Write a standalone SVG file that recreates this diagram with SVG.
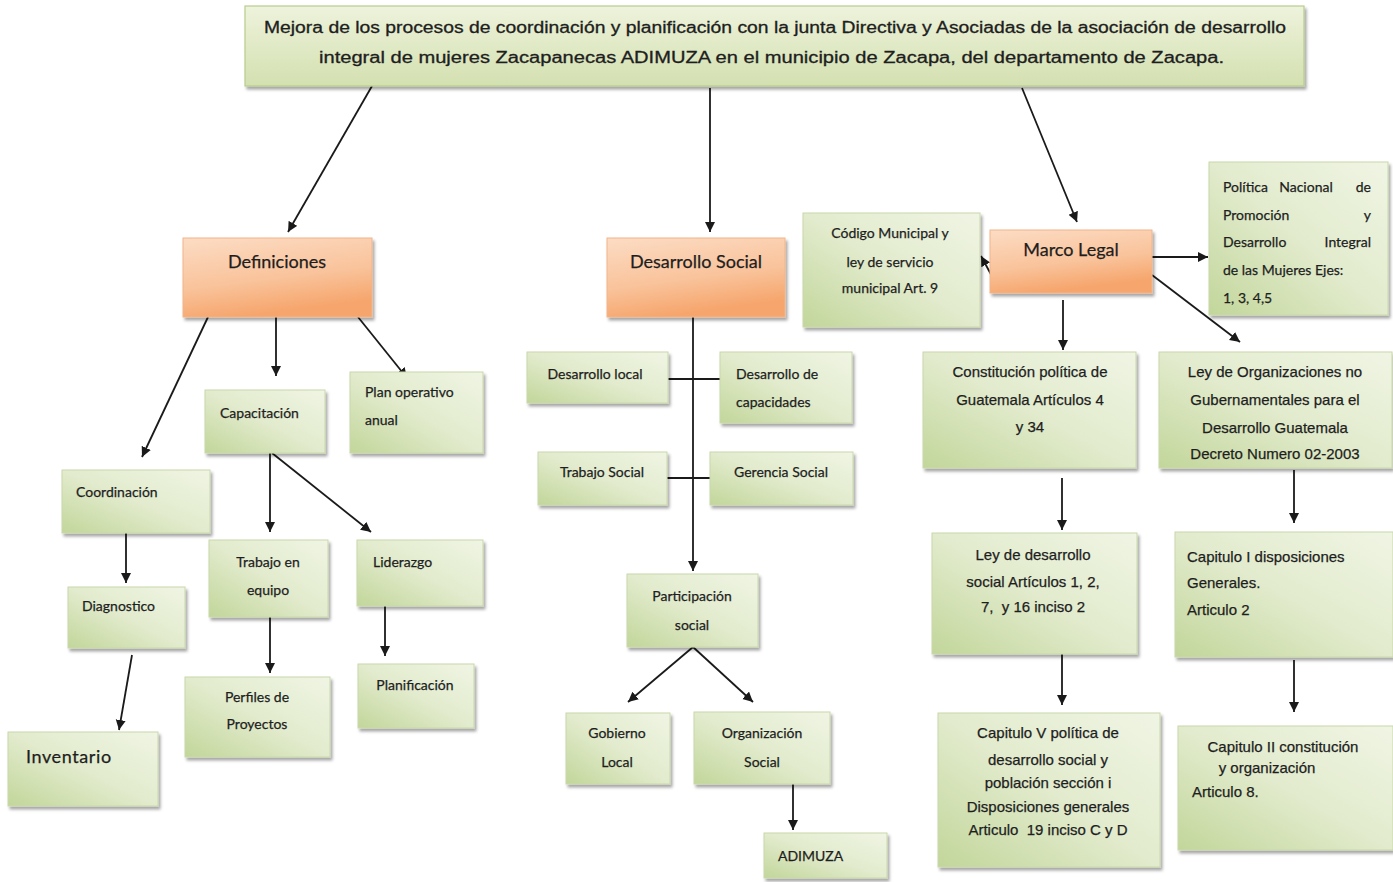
<svg xmlns="http://www.w3.org/2000/svg" width="1393" height="882" viewBox="0 0 1393 882">
<defs>
<linearGradient id="gG" x1="0" y1="1" x2="1" y2="0">
<stop offset="0" stop-color="#c2d69a"/>
<stop offset="0.5" stop-color="#e2ebcd"/>
<stop offset="1" stop-color="#f0f5e4"/>
</linearGradient>
<linearGradient id="gT" x1="0" y1="0" x2="0" y2="1">
<stop offset="0" stop-color="#eef3dc"/>
<stop offset="1" stop-color="#d3e0b0"/>
</linearGradient>
<linearGradient id="gO" x1="0" y1="0" x2="0.3" y2="1">
<stop offset="0" stop-color="#fcdcc4"/>
<stop offset="0.6" stop-color="#f9c39b"/>
<stop offset="1" stop-color="#f6a56c"/>
</linearGradient>
<filter id="sh" x="-10%" y="-10%" width="130%" height="140%">
<feDropShadow dx="2" dy="3" stdDeviation="1.5" flood-color="#000" flood-opacity="0.35"/>
</filter>
<marker id="ah" markerUnits="userSpaceOnUse" markerWidth="11" markerHeight="11" refX="10" refY="5" orient="auto">
<path d="M0,0 L10,5 L0,10 z" fill="#1a1a1a"/>
</marker>
<style>
.g{fill:url(#gG);stroke:#c9d8ab;stroke-width:1;filter:url(#sh)}
.o{fill:url(#gO);stroke:#f2b48a;stroke-width:1;filter:url(#sh)}
.tp{fill:url(#gT);stroke:#b9cc8e;stroke-width:1.2;filter:url(#sh)}
text{white-space:pre}
.c{font-family:Lato,"Liberation Sans",sans-serif;font-size:14px;fill:#1e1e1e;stroke:#1e1e1e;stroke-width:0.25}
.h{font-family:Lato,"Liberation Sans",sans-serif;font-size:18px;fill:#1e1e1e;stroke:#1e1e1e;stroke-width:0.25}
.a{font-family:"Liberation Sans",Arial,sans-serif;font-size:15px;fill:#1e1e1e;stroke:#1e1e1e;stroke-width:0.25}
.top{font-family:"Liberation Sans",Arial,sans-serif;font-size:16px;fill:#1e1e1e;stroke:#1e1e1e;stroke-width:0.3}
.m{text-anchor:middle}
.ln{stroke:#1a1a1a;stroke-width:1.8;fill:none}
.ar{marker-end:url(#ah)}
</style>
</defs>
<rect width="1393" height="882" fill="#ffffff"/>

<g id="connectors">
<line class="ln ar" x1="372" y1="86" x2="288" y2="232"/>
<line class="ln ar" x1="710" y1="88" x2="710" y2="232"/>
<line class="ln ar" x1="1022" y1="88" x2="1077" y2="222"/>
<line class="ln ar" x1="208" y1="317" x2="142" y2="457"/>
<line class="ln ar" x1="276" y1="317" x2="276" y2="376"/>
<line class="ln ar" x1="358" y1="317" x2="407" y2="378"/>
<line class="ln ar" x1="270" y1="453" x2="270" y2="532"/>
<line class="ln ar" x1="272" y1="453" x2="371" y2="532"/>
<line class="ln ar" x1="126" y1="533" x2="126" y2="583"/>
<line class="ln ar" x1="132" y1="655" x2="119" y2="730"/>
<line class="ln ar" x1="270" y1="617" x2="270" y2="673"/>
<line class="ln ar" x1="385" y1="606" x2="385" y2="656"/>
<line class="ln ar" x1="693" y1="317" x2="693" y2="571"/>
<line class="ln" x1="668" y1="379" x2="720" y2="379"/>
<line class="ln" x1="667" y1="478" x2="710" y2="478"/>
<line class="ln ar" x1="693" y1="647" x2="628" y2="702"/>
<line class="ln ar" x1="693" y1="647" x2="753" y2="702"/>
<line class="ln ar" x1="793" y1="784" x2="793" y2="830"/>
<line class="ln ar" x1="994" y1="280" x2="981" y2="256"/>
<line class="ln ar" x1="1152" y1="257" x2="1208" y2="257"/>
<line class="ln ar" x1="1152" y1="275" x2="1240" y2="342"/>
<line class="ln ar" x1="1063" y1="300" x2="1063" y2="350"/>
<line class="ln ar" x1="1062" y1="478" x2="1062" y2="530"/>
<line class="ln ar" x1="1062" y1="654" x2="1062" y2="705"/>
<line class="ln ar" x1="1294" y1="470" x2="1294" y2="523"/>
<line class="ln ar" x1="1294" y1="660" x2="1294" y2="712"/>
</g>

<g id="n-top">
<rect class="tp" x="245" y="6" width="1059" height="80"/>
<text class="top" x="264" y="33" textLength="1022" lengthAdjust="spacingAndGlyphs">Mejora de los procesos de coordinación y planificación con la junta Directiva y Asociadas de la asociación de desarrollo</text>
<text class="top" x="319" y="63" textLength="905" lengthAdjust="spacingAndGlyphs">integral de mujeres Zacapanecas ADIMUZA en el municipio de Zacapa, del departamento de Zacapa.</text>
</g>

<g id="n-definiciones">
<rect class="o" x="183" y="238" width="189" height="79"/>
<text class="h m" x="277" y="268">Definiciones</text>
</g>
<g id="n-capacitacion">
<rect class="g" x="205" y="390" width="120" height="63"/>
<text class="c" x="220" y="418">Capacitación</text>
</g>
<g id="n-plan">
<rect class="g" x="350" y="372" width="133" height="81"/>
<text class="c" x="365" y="397">Plan operativo</text>
<text class="c" x="365" y="425">anual</text>
</g>
<g id="n-coordinacion">
<rect class="g" x="62" y="470" width="148" height="63"/>
<text class="c" x="76" y="497">Coordinación</text>
</g>
<g id="n-diagnostico">
<rect class="g" x="68" y="587" width="117" height="61"/>
<text class="c" x="82" y="611">Diagnostico</text>
</g>
<g id="n-inventario">
<rect class="g" x="8" y="732" width="150" height="74"/>
<text class="h" x="26" y="763" letter-spacing="0.6">Inventario</text>
</g>
<g id="n-trabajo-equipo">
<rect class="g" x="209" y="540" width="119" height="77"/>
<text class="c m" x="268" y="567">Trabajo en</text>
<text class="c m" x="268" y="595">equipo</text>
</g>
<g id="n-liderazgo">
<rect class="g" x="357" y="540" width="126" height="66"/>
<text class="c" x="373" y="567">Liderazgo</text>
</g>
<g id="n-planificacion">
<rect class="g" x="358" y="664" width="116" height="64"/>
<text class="c m" x="415" y="690">Planificación</text>
</g>
<g id="n-perfiles">
<rect class="g" x="185" y="677" width="145" height="80"/>
<text class="c m" x="257" y="702">Perfiles de</text>
<text class="c m" x="257" y="729">Proyectos</text>
</g>

<g id="n-desarrollo-social">
<rect class="o" x="607" y="238" width="178" height="79"/>
<text class="h m" x="696" y="268">Desarrollo Social</text>
</g>
<g id="n-desarrollo-local">
<rect class="g" x="527" y="352" width="141" height="51"/>
<text class="c m" x="595" y="379">Desarrollo local</text>
</g>
<g id="n-desarrollo-capacidades">
<rect class="g" x="720" y="352" width="132" height="71"/>
<text class="c" x="736" y="379">Desarrollo de</text>
<text class="c" x="736" y="407">capacidades</text>
</g>
<g id="n-trabajo-social">
<rect class="g" x="538" y="452" width="129" height="53"/>
<text class="c m" x="602" y="477">Trabajo Social</text>
</g>
<g id="n-gerencia-social">
<rect class="g" x="710" y="452" width="143" height="53"/>
<text class="c m" x="781" y="477">Gerencia Social</text>
</g>
<g id="n-participacion">
<rect class="g" x="627" y="574" width="131" height="73"/>
<text class="c m" x="692" y="601">Participación</text>
<text class="c m" x="692" y="630">social</text>
</g>
<g id="n-gobierno">
<rect class="g" x="566" y="713" width="104" height="71"/>
<text class="c m" x="617" y="738">Gobierno</text>
<text class="c m" x="617" y="767">Local</text>
</g>
<g id="n-organizacion">
<rect class="g" x="694" y="712" width="136" height="72"/>
<text class="c m" x="762" y="738">Organización</text>
<text class="c m" x="762" y="767">Social</text>
</g>
<g id="n-adimuza">
<rect class="g" x="764" y="833" width="123" height="45"/>
<text class="c" x="778" y="861">ADIMUZA</text>
</g>

<g id="n-marco-legal">
<rect class="o" x="990" y="230" width="162" height="63"/>
<text class="h m" x="1071" y="256">Marco Legal</text>
</g>
<g id="n-codigo">
<rect class="g" x="803" y="213" width="177" height="114"/>
<text class="c m" x="890" y="238">Código Municipal y</text>
<text class="c m" x="890" y="267">ley de servicio</text>
<text class="c m" x="890" y="293">municipal Art. 9</text>
</g>
<g id="n-politica">
<rect class="g" x="1209" y="162" width="179" height="153"/>
<text class="c" x="1223" y="192">Política</text>
<text class="c m" x="1306" y="192">Nacional</text>
<text class="c" x="1371" y="192" text-anchor="end">de</text>
<text class="c" x="1223" y="220">Promoción</text>
<text class="c" x="1371" y="220" text-anchor="end">y</text>
<text class="c" x="1223" y="247">Desarrollo</text>
<text class="c" x="1371" y="247" text-anchor="end">Integral</text>
<text class="c" x="1223" y="275">de las Mujeres Ejes:</text>
<text class="c" x="1223" y="303">1, 3, 4,5</text>
</g>
<g id="n-constitucion">
<rect class="g" x="923" y="352" width="213" height="116"/>
<text class="a m" x="1030" y="377">Constitución política de</text>
<text class="a m" x="1030" y="405">Guatemala Artículos 4</text>
<text class="a m" x="1030" y="432">y 34</text>
</g>
<g id="n-ley-ong">
<rect class="g" x="1159" y="352" width="233" height="116"/>
<text class="a m" x="1275" y="377">Ley de Organizaciones no</text>
<text class="a m" x="1275" y="405">Gubernamentales para el</text>
<text class="a m" x="1275" y="433">Desarrollo Guatemala</text>
<text class="a m" x="1275" y="459">Decreto Numero 02-2003</text>
</g>
<g id="n-ley-desarrollo">
<rect class="g" x="932" y="533" width="205" height="121"/>
<text class="a m" x="1033" y="560">Ley de desarrollo</text>
<text class="a m" x="1033" y="587">social Artículos 1, 2,</text>
<text class="a m" x="1033" y="612">7,  y 16 inciso 2</text>
</g>
<g id="n-capitulo-v">
<rect class="g" x="938" y="713" width="222" height="154"/>
<text class="a m" x="1048" y="738">Capitulo V política de</text>
<text class="a m" x="1048" y="765">desarrollo social y</text>
<text class="a m" x="1048" y="788">población sección i</text>
<text class="a m" x="1048" y="812">Disposiciones generales</text>
<text class="a m" x="1048" y="835">Articulo  19 inciso C y D</text>
</g>
<g id="n-capitulo-i">
<rect class="g" x="1175" y="532" width="218" height="125"/>
<text class="a" x="1187" y="562">Capitulo I disposiciones</text>
<text class="a" x="1187" y="588">Generales.</text>
<text class="a" x="1187" y="615">Articulo 2</text>
</g>
<g id="n-capitulo-ii">
<rect class="g" x="1178" y="726" width="215" height="124"/>
<text class="a m" x="1283" y="752">Capitulo II constitución</text>
<text class="a m" x="1267" y="773">y organización</text>
<text class="a" x="1192" y="797">Articulo 8.</text>
</g>
</svg>
